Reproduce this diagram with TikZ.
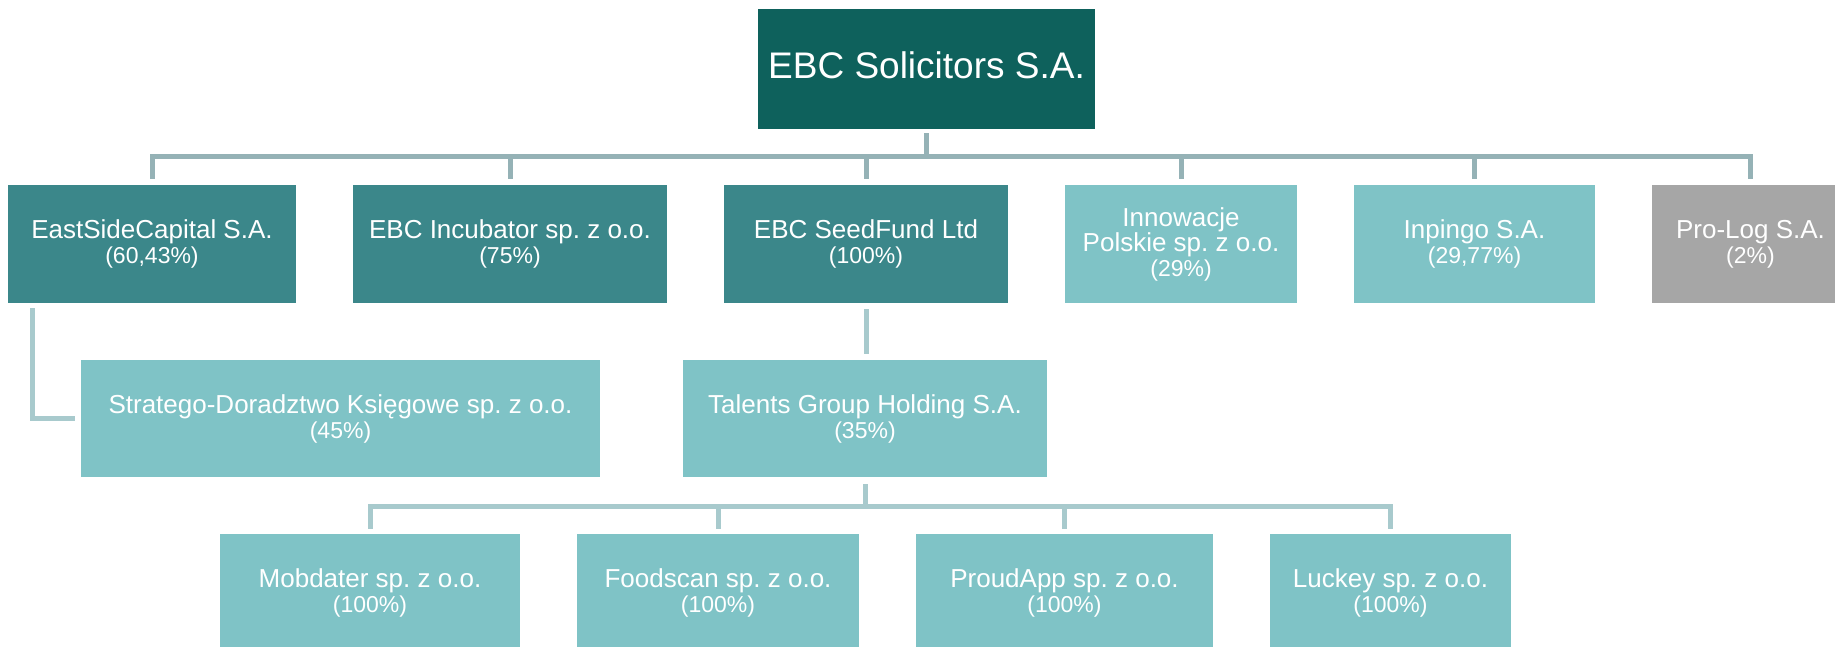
\documentclass[tikz,border=0pt]{standalone}
\usepackage{fontspec}
\setmainfont{Liberation Sans}
\usetikzlibrary{calc}
\definecolor{rootc}{HTML}{0E615C}
\definecolor{darkc}{HTML}{3B878A}
\definecolor{lightc}{HTML}{7FC3C6}
\definecolor{grayc}{HTML}{A6A6A6}
\definecolor{topline}{HTML}{95B2B6}
\definecolor{lowline}{HTML}{A8CACD}
\newcommand{\pc}[1]{{\fontsize{23}{25}\selectfont #1}}
\frenchspacing
\begin{document}
\begin{tikzpicture}[x=1pt,y=-1pt,
  box/.style={rectangle, inner sep=0pt, text=white, align=center,
    font=\fontsize{26}{25}\selectfont},
  sz/.style 2 args={minimum width=#1pt, minimum height=#2pt},
  dark/.style={box, fill=darkc},
  light/.style={box, fill=lightc},
  greybox/.style={box, fill=grayc},
  topconn/.style={draw=topline, line width=5pt, shorten <=4pt, shorten >=6pt},
  lowconn/.style={draw=lowline, line width=5pt}]
\fill[white] (0,0) rectangle (1835,647);
\useasboundingbox (0,0) rectangle (1835,647);

% root
\node[box, fill=rootc, sz={337}{120}, font=\fontsize{37}{40}\selectfont] (root) at (926.5,69) {\raisebox{7pt}{EBC Solicitors S.A.}};

% level 1
\node[dark, sz={288}{118}] (esc) at (152,244) {EastSideCapital S.A.\\\pc{(60,43\%)}};
\node[dark, sz={314}{118}] (inc) at (510,244) {EBC Incubator sp. z o.o.\\\pc{(75\%)}};
\node[dark, sz={284}{118}] (seed) at (866,244) {EBC SeedFund Ltd\\\pc{(100\%)}};
\node[light, sz={232}{118}] (inn) at (1181,244) {Innowacje\\Polskie sp. z o.o.\\\pc{(29\%)}};
\node[light, sz={241}{118}] (inp) at (1474.5,244) {Inpingo S.A.\\\pc{(29,77\%)}};
\node[greybox, sz={197}{118}] (pro) at (1750.5,244) {Pro-Log S.A.\\\pc{(2\%)}};

% level 2
\node[light, sz={519}{117}] (strat) at (340.5,418.5) {Stratego-Doradztwo Księgowe sp. z o.o.\\\pc{(45\%)}};
\node[light, sz={364}{117}] (tal) at (865,418.5) {Talents Group Holding S.A.\\\pc{(35\%)}};

% level 3
\node[light, sz={300}{118}] (mob) at (370,593) {Mobdater sp. z o.o.\\\pc{(100\%)}};
\node[light, sz={282}{118}] (food) at (718,593) {Foodscan sp. z o.o.\\\pc{(100\%)}};
\node[light, sz={297}{118}] (proud) at (1064.5,593) {ProudApp sp. z o.o.\\\pc{(100\%)}};
\node[light, sz={241}{118}] (luck) at (1390.5,593) {Luckey sp. z o.o.\\\pc{(100\%)}};

% connectors root -> level 1
\foreach \c in {esc,inc,seed,inn,inp,pro}
  \draw[topconn] (root.south) -- ++(0,27) -| (\c.north);

% EastSideCapital -> Stratego
\draw[lowconn, shorten <=5pt, shorten >=6pt] ($(esc.south west)+(25,0)$) |- (strat.west);

% SeedFund -> Talents
\draw[lowconn, shorten <=6pt, shorten >=6pt] (seed.south) -- (seed.south |- tal.north);

% Talents -> level 3
\foreach \c in {mob,food,proud,luck}
  \draw[lowconn, shorten <=7pt, shorten >=5pt] (tal.south) -- ++(0,29) -| (\c.north);
\end{tikzpicture}
\end{document}
